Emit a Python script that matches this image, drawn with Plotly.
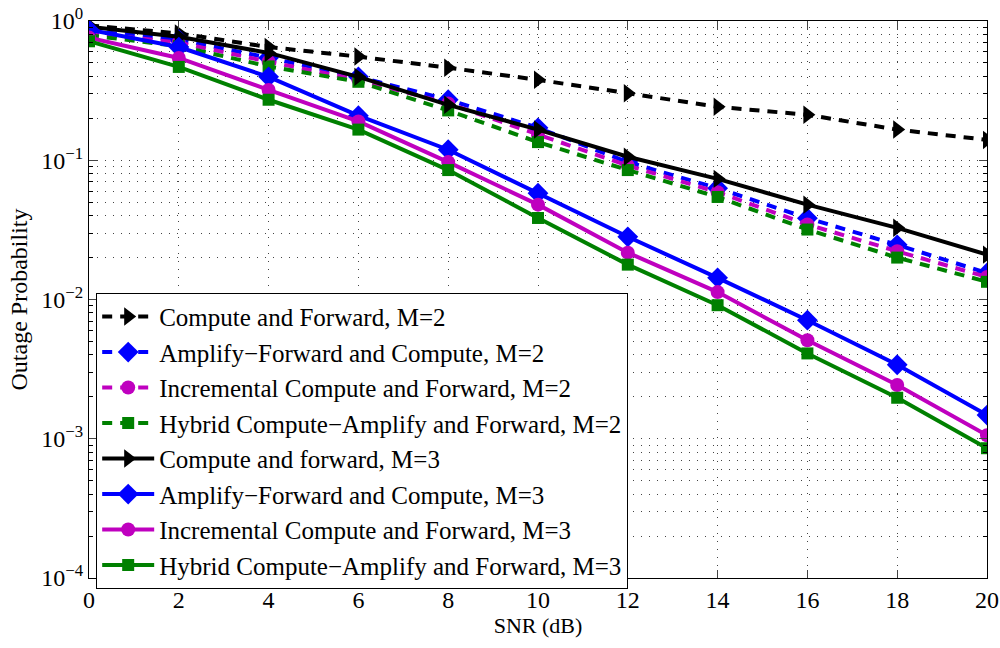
import plotly.graph_objects as go

snr = [0, 2, 4, 6, 8, 10, 12, 14, 16, 18, 20]

cf_m2 = [0.93, 0.815, 0.65, 0.555, 0.462, 0.378, 0.303, 0.242, 0.212, 0.166, 0.140]
afc_m2 = [0.85, 0.735, 0.545, 0.397, 0.272, 0.171, 0.097, 0.063, 0.0384, 0.0247, 0.0155]
icf_m2 = [0.82, 0.70, 0.51, 0.378, 0.256, 0.152, 0.0915, 0.059, 0.0346, 0.0222, 0.0145]
hcaf_m2 = [0.79, 0.66, 0.472, 0.366, 0.228, 0.135, 0.085, 0.0545, 0.0318, 0.020, 0.0134]

cf_m3 = [0.91, 0.77, 0.59, 0.397, 0.25, 0.166, 0.106, 0.0735, 0.048, 0.0327, 0.021]
afc_m3 = [0.865, 0.65, 0.397, 0.209, 0.119, 0.058, 0.0282, 0.0143, 0.0071, 0.0034, 0.00148]
icf_m3 = [0.76, 0.543, 0.32, 0.19, 0.097, 0.048, 0.0217, 0.0113, 0.0051, 0.00243, 0.00106]
hcaf_m3 = [0.715, 0.468, 0.272, 0.166, 0.085, 0.0385, 0.0178, 0.0091, 0.0041, 0.00197, 0.000855]

names = [
    "Compute and Forward, M=2",
    "Amplify\u2212Forward and Compute, M=2",
    "Incremental Compute and Forward, M=2",
    "Hybrid Compute\u2212Amplify and Forward, M=2",
    "Compute and forward, M=3",
    "Amplify\u2212Forward and Compute, M=3",
    "Incremental Compute and Forward, M=3",
    "Hybrid Compute\u2212Amplify and Forward, M=3",
]
series = [cf_m2, afc_m2, icf_m2, hcaf_m2, cf_m3, afc_m3, icf_m3, hcaf_m3]
colors = ["black", "#0000FF", "#BF00BF", "#008000"] * 2
symbols = ["triangle-right", "diamond", "circle", "square"] * 2
sizes = [16, 16, 14, 12] * 2
dashes = ["10px,8px"] * 4 + ["solid"] * 4

ytickvals = [1e-4, 1e-3, 1e-2, 1e-1, 1]
yticktext = ["10<sup>\u22124</sup>", "10<sup>\u22123</sup>", "10<sup>\u22122</sup>",
             "10<sup>\u22121</sup>", "10<sup>0</sup>"]
xtickvals = snr

fig = go.Figure()
for i, (name, ys) in enumerate(zip(names, series)):
    fig.add_trace(go.Scatter(
        x=snr, y=ys, name=name, mode="lines+markers",
        line=dict(color=colors[i], width=4, dash=dashes[i]),
        marker=dict(symbol=symbols[i], size=sizes[i], color=colors[i]),
    ))

font = "Liberation Serif, Times New Roman, serif"
griddash = "1px,7px"
gridcolor = "#444"
fig.update_layout(
    width=1000, height=648,
    margin=dict(l=89, r=13, t=21, b=70),
    paper_bgcolor="white", plot_bgcolor="white",
    font=dict(family=font, size=20, color="black"),
    showlegend=True,
    legend=dict(
        x=0.008, y=0.512, xanchor="left", yanchor="top",
        bgcolor="white", bordercolor="black", borderwidth=1,
        font=dict(family=font, size=25, color="black"),
        itemwidth=52,
    ),
    xaxis=dict(
        range=[0, 20], tickvals=xtickvals, ticks="inside", ticklen=8,
        showline=True, linecolor="black", linewidth=1, mirror="ticks",
        showgrid=True, gridcolor=gridcolor, griddash=griddash, gridwidth=1,
        zeroline=False, automargin=False,
        title=dict(text="SNR (dB)", standoff=2, font=dict(size=22)),
        tickfont=dict(size=24),
    ),
    yaxis=dict(
        type="log", range=[-4, 0], tickvals=ytickvals, ticktext=yticktext,
        ticks="inside", ticklen=8,
        showline=True, linecolor="black", linewidth=1, mirror="ticks",
        showgrid=True, gridcolor=gridcolor, griddash=griddash, gridwidth=1,
        zeroline=False, automargin=False,
        minor=dict(ticks="inside", ticklen=4, tickcolor="black",
                   showgrid=True, gridcolor=gridcolor, griddash=griddash, gridwidth=1,
                   dtick="D1"),
        title=dict(text="Outage Probability", standoff=6, font=dict(size=24)),
        tickfont=dict(size=24),
    ),
)

fig.write_html("out.html", config={"displayModeBar": False},
               post_script="document.body.style.margin='0';")
